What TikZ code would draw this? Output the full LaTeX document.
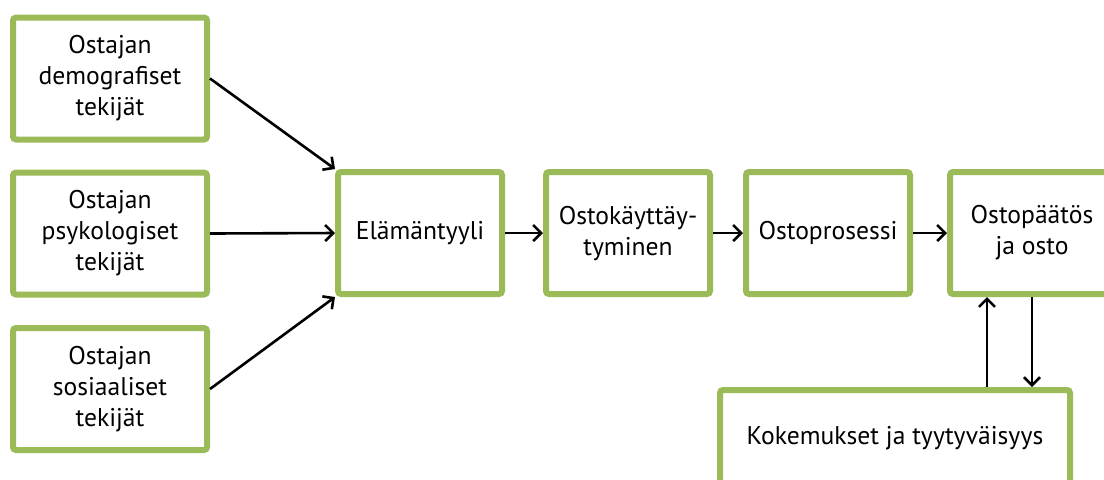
\documentclass[tikz,border=0pt]{standalone}
\usepackage{fontspec}
\setmainfont{PT Sans}
\usepackage{tikz}
\usetikzlibrary{positioning,arrows.meta}
\definecolor{boxgreen}{HTML}{9BBB59}
\tikzset{box/.style={draw=boxgreen, line width=3pt, rounded corners=1.5pt, fill=white,
		align=center, minimum width=82pt, minimum height=61pt, inner sep=2pt,
		font=\fontsize{12.8}{15.5}\selectfont},
	widebox/.style={box, minimum width=97pt},
	flow/.style={-{Straight Barb[length=4pt, width=8pt]}, line width=1.3pt}}

\begin{document}
\begin{tikzpicture}[x=0.5pt, y=-0.5pt]
	\clip (0,0) rectangle (1104,479);
	% tekijat
	\node[widebox] (demo) at (110,78.5) {Ostajan\\demografiset\\tekijät};
	\node[widebox] (psyk) at (110,233.5) {Ostajan\\psykologiset\\tekijät};
	\node[widebox] (sos) at (110,389) {Ostajan\\sosiaaliset\\tekijät};
	% prosessi
	\node[box] (elama) at (420,233) {Elämäntyyli};
	\node[box] (kaytt) at (628,233) {Ostokäyttäy-\\tyminen};
	\node[box] (prosessi) at (828,233) {Ostoprosessi};
	\node[box] (paatos) at (1032,233) {Ostopäätös\\ja osto};
	\node[box, minimum width=175pt, text depth=16pt] (kokemus) at (895,451) {Kokemukset ja tyytyväisyys};
	% nuolet
	\draw[flow] (demo.east) -- (elama.north west);
	\draw[flow] (psyk.east) -- (elama.west);
	\draw[flow] (sos.east) -- (elama.south west);
	\draw[flow] (elama) -- (kaytt);
	\draw[flow] (kaytt) -- (prosessi);
	\draw[flow] (prosessi) -- (paatos);
	\draw[flow] ([xshift=-22.5pt]paatos.south |- kokemus.north) -- ([xshift=-22.5pt]paatos.south);
	\draw[flow] (paatos.south) -- (paatos.south |- kokemus.north);
\end{tikzpicture}
\end{document}
